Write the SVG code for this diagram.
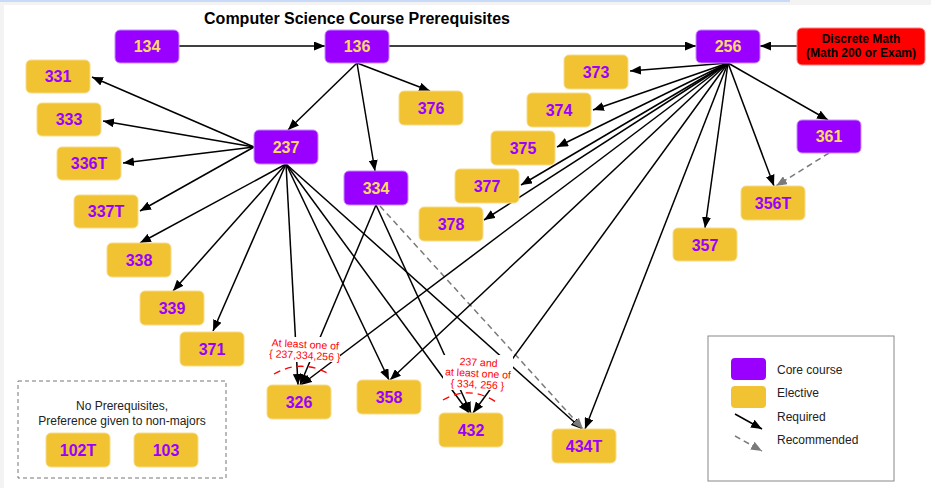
<svg xmlns="http://www.w3.org/2000/svg" width="931" height="488" viewBox="0 0 931 488">
  <style>
    .core rect { fill: #9900ff; stroke: #c58cff; stroke-width: 1; }
    .core text { fill: #ffd966; }
    .elec rect { fill: #f1c232; stroke: #f7dc8a; stroke-width: 1; }
    .elec text { fill: #9900ff; }
    .node text { font-family: "Liberation Sans", Arial, sans-serif; font-size: 16px; font-weight: bold; text-anchor: middle; }
    .req { stroke: #000; stroke-width: 1.5; fill: none; marker-end: url(#arrow); }
    .rec { stroke: #7a7a7a; stroke-width: 1.5; fill: none; stroke-dasharray: 6 4; marker-end: url(#arrowGray); }
    .note { font-family: "Liberation Sans", Arial, sans-serif; font-size: 10.5px; fill: #ff0000; text-anchor: middle; }
    .arc { fill: none; stroke: #ff0000; stroke-width: 1.3; stroke-dasharray: 7 5; }
    .label { font-family: "Liberation Sans", Arial, sans-serif; font-size: 12px; fill: #222; }
  </style>
  <defs>
    <marker id="arrow" markerUnits="userSpaceOnUse" markerWidth="11" markerHeight="9" refX="11" refY="4.5" orient="auto">
      <path d="M0,0 L11,4.5 L0,9 z" fill="#000"/>
    </marker>
    <marker id="arrowGray" markerUnits="userSpaceOnUse" markerWidth="11" markerHeight="9" refX="11" refY="4.5" orient="auto">
      <path d="M0,0 L11,4.5 L0,9 z" fill="#7a7a7a"/>
    </marker>
  </defs>

  <!-- page -->
  <rect x="0" y="0" width="931" height="488" fill="#f3f3f3"/>
  <rect x="4" y="5" width="927" height="483" fill="#ffffff"/>
  <rect x="0" y="0" width="790" height="2" fill="#c9daf8"/>

  <text x="357" y="24" font-family="Liberation Sans, Arial, sans-serif" font-size="16" font-weight="bold" text-anchor="middle" fill="#000">Computer Science Course Prerequisites</text>

  <!-- connectors -->
  <g id="connectors">
    <line class="req" x1="179" y1="46" x2="325" y2="46"/>
    <line class="req" x1="389" y1="46" x2="696" y2="46"/>
    <line class="req" x1="797" y1="46" x2="760" y2="46"/>

    <!-- from 136 -->
    <line class="req" x1="357" y1="63" x2="288" y2="130"/>
    <line class="req" x1="357" y1="63" x2="430" y2="91"/>
    <line class="req" x1="357" y1="63" x2="375" y2="171"/>

    <!-- from 237 -->
    <line class="req" x1="254" y1="147" x2="92" y2="77"/>
    <line class="req" x1="254" y1="147" x2="103" y2="121"/>
    <line class="req" x1="254" y1="147" x2="123" y2="163"/>
    <line class="req" x1="254" y1="147" x2="140" y2="211"/>
    <line class="req" x1="286" y1="164" x2="140" y2="243"/>
    <line class="req" x1="286" y1="164" x2="173" y2="291"/>
    <line class="req" x1="286" y1="164" x2="213" y2="331"/>
    <line class="req" x1="286" y1="164" x2="298" y2="385"/>
    <line class="req" x1="286" y1="164" x2="389" y2="380"/>
    <line class="req" x1="286" y1="164" x2="469" y2="413"/>
    <line class="req" x1="286" y1="164" x2="582" y2="429"/>

    <!-- from 334 -->
    <line class="req" x1="376" y1="205" x2="300" y2="385"/>
    <line class="req" x1="376" y1="205" x2="471" y2="413"/>
    <line class="rec" x1="380" y1="206" x2="583" y2="429"/>

    <!-- from 256 -->
    <line class="req" x1="728" y1="63" x2="630" y2="71"/>
    <line class="req" x1="728" y1="63" x2="593" y2="110"/>
    <line class="req" x1="728" y1="63" x2="557" y2="147"/>
    <line class="req" x1="728" y1="63" x2="521" y2="185"/>
    <line class="req" x1="728" y1="63" x2="484" y2="220"/>
    <line class="req" x1="728" y1="63" x2="301" y2="385"/>
    <line class="req" x1="728" y1="63" x2="390" y2="380"/>
    <line class="req" x1="728" y1="63" x2="473" y2="413"/>
    <line class="req" x1="728" y1="63" x2="585" y2="429"/>
    <line class="req" x1="728" y1="63" x2="705" y2="228"/>
    <line class="req" x1="728" y1="63" x2="774" y2="186"/>
    <line class="req" x1="728" y1="63" x2="828" y2="120"/>

    <!-- from 361 -->
    <line class="rec" x1="829" y1="153" x2="776" y2="186"/>
  </g>

  <!-- core courses -->
  <g id="n134" class="node core"><rect x="115" y="30" width="64" height="33" rx="5"/><text x="147" y="52">134</text></g>
  <g id="n136" class="node core"><rect x="325" y="30" width="64" height="33" rx="5"/><text x="357" y="52">136</text></g>
  <g id="n256" class="node core"><rect x="696" y="30" width="64" height="33" rx="5"/><text x="728" y="52">256</text></g>
  <g id="n237" class="node core"><rect x="254" y="130" width="64" height="34" rx="5"/><text x="286" y="153">237</text></g>
  <g id="n334" class="node core"><rect x="344" y="171" width="64" height="34" rx="5"/><text x="376" y="194">334</text></g>
  <g id="n361" class="node core"><rect x="797" y="120" width="64" height="33" rx="5"/><text x="829" y="142">361</text></g>

  <!-- discrete math -->
  <g id="discrete" class="node">
    <rect x="797" y="28" width="128" height="37" rx="5" fill="#ff0000" stroke="#ff8080" stroke-width="1"/>
    <text x="861" y="43" style="font-size:12px" fill="#000">Discrete Math</text>
    <text x="861" y="57" style="font-size:12px" fill="#000">(Math 200 or Exam)</text>
  </g>

  <!-- electives -->
  <g id="n331" class="node elec"><rect x="26" y="60" width="64" height="33" rx="5"/><text x="58" y="82">331</text></g>
  <g id="n333" class="node elec"><rect x="37" y="103" width="64" height="33" rx="5"/><text x="69" y="125">333</text></g>
  <g id="n336T" class="node elec"><rect x="57" y="147" width="64" height="33" rx="5"/><text x="89" y="169">336T</text></g>
  <g id="n337T" class="node elec"><rect x="74" y="195" width="64" height="33" rx="5"/><text x="106" y="217">337T</text></g>
  <g id="n338" class="node elec"><rect x="107" y="243" width="64" height="34" rx="5"/><text x="139" y="266">338</text></g>
  <g id="n339" class="node elec"><rect x="140" y="291" width="64" height="34" rx="5"/><text x="172" y="314">339</text></g>
  <g id="n371" class="node elec"><rect x="180" y="332" width="64" height="34" rx="5"/><text x="212" y="355">371</text></g>
  <g id="n376" class="node elec"><rect x="399" y="91" width="64" height="34" rx="5"/><text x="431" y="114">376</text></g>
  <g id="n373" class="node elec"><rect x="564" y="55" width="64" height="34" rx="5"/><text x="596" y="78">373</text></g>
  <g id="n374" class="node elec"><rect x="527" y="93" width="64" height="34" rx="5"/><text x="559" y="116">374</text></g>
  <g id="n375" class="node elec"><rect x="491" y="131" width="64" height="34" rx="5"/><text x="523" y="154">375</text></g>
  <g id="n377" class="node elec"><rect x="455" y="169" width="64" height="34" rx="5"/><text x="487" y="192">377</text></g>
  <g id="n378" class="node elec"><rect x="419" y="207" width="64" height="34" rx="5"/><text x="451" y="230">378</text></g>
  <g id="n356T" class="node elec"><rect x="741" y="186" width="64" height="34" rx="5"/><text x="773" y="209">356T</text></g>
  <g id="n357" class="node elec"><rect x="673" y="228" width="64" height="33" rx="5"/><text x="705" y="251">357</text></g>
  <g id="n326" class="node elec"><rect x="267" y="385" width="64" height="34" rx="5"/><text x="299" y="408">326</text></g>
  <g id="n358" class="node elec"><rect x="357" y="380" width="64" height="34" rx="5"/><text x="389" y="403">358</text></g>
  <g id="n432" class="node elec"><rect x="439" y="413" width="64" height="34" rx="5"/><text x="471" y="436">432</text></g>
  <g id="n434T" class="node elec"><rect x="552" y="429" width="64" height="34" rx="5"/><text x="584" y="452">434T</text></g>

  <!-- "at least one of" notes, on white backing over the connectors -->
  <g id="note326">
    <rect x="272" y="337" width="68" height="25" fill="#fff"/>
    <g transform="rotate(3 305 351)">
      <text class="note" x="305" y="348">At least one of</text>
      <text class="note" x="305" y="359">{ 237,334,256 }</text>
    </g>
    <path class="arc" d="M274,374 Q302,358 331,375"/>
  </g>
  <g id="note432">
    <rect x="443" y="355" width="70" height="35" fill="#fff"/>
    <g transform="rotate(3 478 374)">
      <text class="note" x="478" y="366">237 and</text>
      <text class="note" x="478" y="377">at least one of</text>
      <text class="note" x="478" y="388">{ 334, 256 }</text>
    </g>
    <path class="arc" d="M443,400 Q471,384 499,404"/>
  </g>

  <!-- no-prerequisite group -->
  <g id="noPrereq">
    <rect x="18" y="381" width="208" height="97" fill="none" stroke="#777" stroke-width="1" stroke-dasharray="4 3"/>
    <text class="label" x="122" y="410" text-anchor="middle">No Prerequisites,</text>
    <text class="label" x="122" y="425" text-anchor="middle">Preference given to non-majors</text>
  </g>
  <g id="n102T" class="node elec"><rect x="46" y="433" width="64" height="34" rx="5"/><text x="78" y="456">102T</text></g>
  <g id="n103" class="node elec"><rect x="134" y="433" width="64" height="34" rx="5"/><text x="166" y="456">103</text></g>

  <!-- legend -->
  <g id="legend">
    <rect x="708" y="336" width="186" height="145" fill="#fff" stroke="#888" stroke-width="1"/>
    <rect x="731" y="358" width="35" height="22" rx="4" fill="#9900ff"/>
    <rect x="731" y="386" width="35" height="22" rx="4" fill="#f1c232"/>
    <line class="req" x1="735" y1="414" x2="762" y2="429"/>
    <line class="rec" x1="735" y1="436" x2="762" y2="451"/>
    <text class="label" x="777" y="374">Core course</text>
    <text class="label" x="777" y="397">Elective</text>
    <text class="label" x="777" y="421">Required</text>
    <text class="label" x="777" y="444">Recommended</text>
  </g>
</svg>
